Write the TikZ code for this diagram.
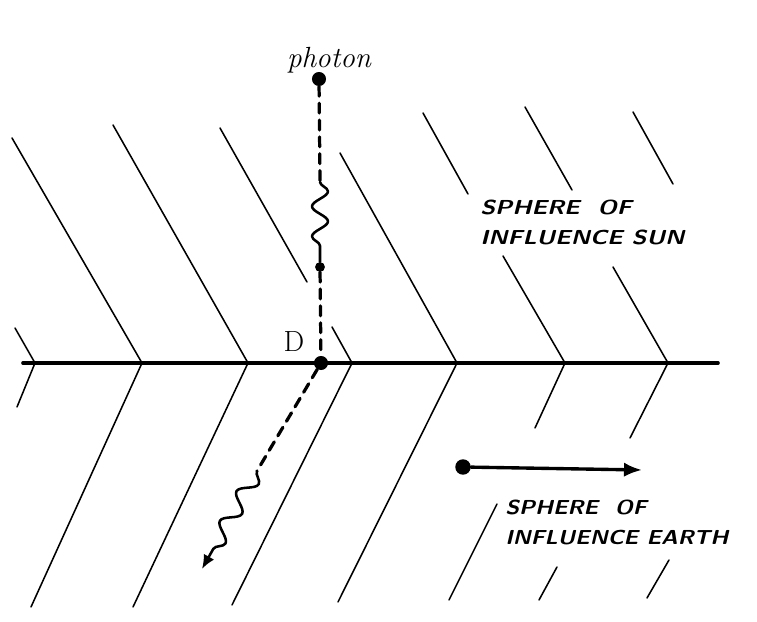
\documentclass[tikz,border=0pt]{standalone}
\usepackage{tikz}
\usetikzlibrary{arrows.meta}
\usetikzlibrary{decorations.pathmorphing}

\begin{document}
\begin{tikzpicture}
      [x=0.025cm,y=-0.025cm,line cap=round,line join=round,
     %the slanted field lines and the photon path
     field/.style={black,line width=1.1pt},
     track/.style={black,line width=2.3pt,dash pattern=on 7pt off 5pt},
     wave/.style={black,line width=1.8pt,decorate,
        decoration={snake,amplitude=2mm,segment length=#1,post length=2mm}},
     spot/.style={circle,fill=black,inner sep=0pt,minimum size=#1},
     hand/.style={font=\sffamily\bfseries\slshape\Large,align=left,inner sep=0pt,xscale=#1}]

\useasboundingbox (0,0) rectangle (757,622);

%main layer
%the boundary between the two spheres
  \draw[line width=2.6pt] (23,363) -- (718,363);

%field lines above the boundary
  \draw[field] (15,328) -- (35,363);
  \draw[field] (12,138) -- (142,363);
  \draw[field] (113,125) -- (248,363);
  \draw[field] (220,128) -- (307,282);
  \draw[field] (332,327) -- (352,363);
  \draw[field] (340,153) -- (457,363);
  \draw[field] (423,113) -- (468,194);
  \draw[field] (503,256) -- (565,363);
  \draw[field] (525,107) -- (572,190);
  \draw[field] (613,267) -- (668,363);
  \draw[field] (633,112) -- (673,184);

%field lines below the boundary
  \draw[field] (35,363) -- (17,407);
  \draw[field] (142,363) -- (31,607);
  \draw[field] (248,363) -- (133,607);
  \draw[field] (352,363) -- (232,605);
  \draw[field] (457,363) -- (338,602);
  \draw[field] (565,363) -- (535,428);
  \draw[field] (497,504) -- (449,600);
  \draw[field] (668,363) -- (630,438);
  \draw[field] (557,567) -- (539,600);
  \draw[field] (669,560) -- (647,598);

%the photon and where it is deflected
  \node[spot=10pt] (photon) at (319,79) {};
  \node[font=\itshape\huge,anchor=south] (photonlabel) at (329,78) {photon};
  \coordinate (wavetop) at (320,182);
  \node[spot=7pt] (kick) at (320,267) {};
  \node[spot=10pt] (D) at (321,363) {};
  \node[font=\huge,inner sep=0pt] (Dlabel) at (294,342) {D};
  \coordinate (wavelow) at (257,471);
  \coordinate (out) at (202,569);

  \draw[track] (photon) -- (wavetop);
  \draw[wave=7.5mm] (wavetop) -- (kick);
  \draw[track] (kick) -- (D);
  \draw[track] (D) -- (wavelow);
  \draw[wave=8.5mm,-{Latex[length=3.5mm,width=3mm]}] (wavelow) -- (out);

%arrow and labels of the two spheres
  \node[spot=11pt] (start) at (463,467) {};
  \coordinate (tip) at (642,470);
  \draw[line width=2.4pt,-{Latex[length=4.5mm,width=3.6mm]}] (start) -- (tip);

  \node[hand=1.2,anchor=north west] (sun) at (480,200) {SPHERE\ \ OF\\[1mm]INFLUENCE SUN};
  \node[hand=1.12,anchor=north west] (earth) at (505,500) {SPHERE\ \ OF\\[1mm]INFLUENCE EARTH};
\end{tikzpicture}
\end{document}
